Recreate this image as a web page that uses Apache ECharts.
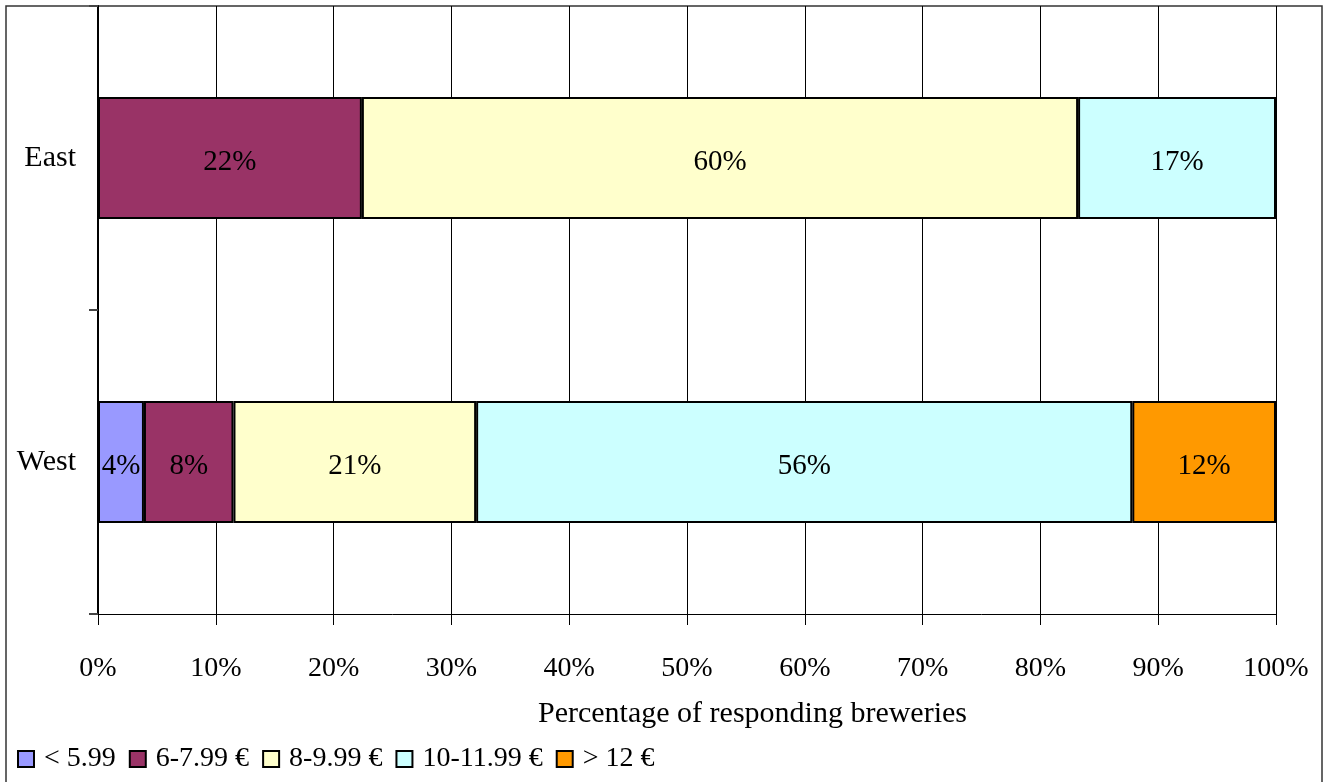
<!DOCTYPE html>
<html>
<head>
<meta charset="utf-8">
<script src="https://cdn.jsdelivr.net/npm/echarts@6/dist/echarts.min.js"></script>
<style>
html,body{margin:0;padding:0;background:#fff;}
#chart{width:1326px;height:782px;}
</style>
</head>
<body>
<div id="chart"></div>
<script>
// ---- data ----
const regions = ['East', 'West'];
const priceBands = ['< 5.99', '6-7.99 €', '8-9.99 €', '10-11.99 €', '> 12 €'];
// share of responding breweries (%) per price band, [East, West]
const under599 = [null, 3.9];
const from6to799 = [22.4, 7.6];
const from8to999 = [60.8, 20.6];
const from10to1199 = [16.8, 55.7];
const over12 = [null, 12.2];
// labels as printed on the bars
const under599Labels = ['', '4%'];
const from6to799Labels = ['22%', '8%'];
const from8to999Labels = ['60%', '21%'];
const from10to1199Labels = ['17%', '56%'];
const over12Labels = ['', '12%'];
const xTicks = [0, 10, 20, 30, 40, 50, 60, 70, 80, 90, 100];
const axisTitle = 'Percentage of responding breweries';

const colors = ['#9999FF', '#993366', '#FFFFCC', '#CCFFFF', '#FF9900'];
const seriesValues = [under599, from6to799, from8to999, from10to1199, over12];
const seriesLabels = [under599Labels, from6to799Labels, from8to999Labels, from10to1199Labels, over12Labels];
const FONT = '"Liberation Serif", "Times New Roman", serif';

const chart = echarts.init(document.getElementById('chart'), null, {renderer: 'canvas'});
chart.setOption({
  animation: false,
  backgroundColor: '#fff',
  grid: {left: 98, right: 50, top: 6, bottom: 168, containLabel: false},
  xAxis: {
    type: 'value',
    min: xTicks[0],
    max: xTicks[xTicks.length - 1],
    interval: xTicks[1] - xTicks[0],
    axisLine: {show: true, lineStyle: {color: '#000', width: 1}},
    axisTick: {show: true, length: 11, lineStyle: {color: '#000', width: 1}},
    axisLabel: {
      formatter: v => v + '%',
      color: '#000', fontFamily: FONT, fontSize: 28, margin: 41
    },
    splitLine: {show: true, lineStyle: {color: '#000', width: 1}}
  },
  yAxis: {
    type: 'category',
    data: regions,
    inverse: true,
    axisLine: {show: true, lineStyle: {color: '#000', width: 2}},
    axisTick: {show: true, length: 9, lineStyle: {color: '#444', width: 2}},
    axisLabel: {color: '#000', fontFamily: FONT, fontSize: 30, margin: 22, padding: [8, 0, 0, 0]},
    splitLine: {show: false}
  },
  legend: {
    left: 12, top: 740,
    icon: 'rect',
    itemWidth: 16, itemHeight: 16,
    itemGap: 13,
    textStyle: {color: '#000', fontFamily: FONT, fontSize: 28, padding: [0, 0, 0, 5]},
    data: priceBands
  },
  graphic: [
    {type: 'rect', shape: {x: 6, y: 6, width: 1316, height: 820}, style: {fill: 'none', stroke: '#333', lineWidth: 1.5}, silent: true},
    {type: 'text', left: 538, top: 699, style: {text: axisTitle, fill: '#000', font: '30px ' + FONT}}
  ],
  series: priceBands.map((name, i) => ({
    name: name,
    type: 'bar',
    stack: 'total',
    barWidth: 122,
    data: seriesValues[i],
    itemStyle: {color: colors[i], borderColor: '#000', borderWidth: 2},
    label: {
      show: true,
      position: 'inside',
      offset: [0, 4],
      color: '#000', fontFamily: FONT, fontSize: 29,
      formatter: p => seriesLabels[i][p.dataIndex]
    }
  }))
});
</script>
</body>
</html>
